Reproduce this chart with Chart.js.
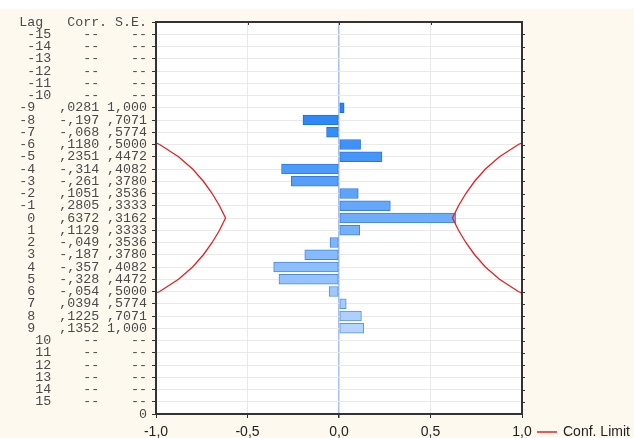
<!DOCTYPE html>
<html>
<head>
<meta charset="utf-8">
<script src="https://cdn.jsdelivr.net/npm/chart.js@4/dist/chart.umd.min.js"></script>
<style>
  html, body { margin: 0; padding: 0; background: #fdf9ef; }
  #wrap { position: relative; width: 634px; height: 438px; }
  #topstrip { position: absolute; left: 0; top: 0; width: 634px; height: 9px; background: #fff; }
</style>
</head>
<body>
<div id="wrap">
  <div id="topstrip"></div>
  <canvas id="acf" width="634" height="438"></canvas>
</div>
<script>
// lags shown in the table, top to bottom
const lags = [-15, -14, -13, -12, -11, -10, -9, -8, -7, -6, -5, -4, -3, -2, -1, 0,
              1, 2, 3, 4, 5, 6, 7, 8, 9, 10, 11, 12, 13, 14, 15];
const corrText = ['--', '--', '--', '--', '--', '--', ',0281', '-,197', '-,068', ',1180', ',2351', '-,314',
                  '-,261', ',1051', ',2805', ',6372', ',1129', '-,049', '-,187', '-,357', '-,328', '-,054',
                  ',0394', ',1225', ',1352', '--', '--', '--', '--', '--', '--'];
const seText = ['--', '--', '--', '--', '--', '--', '1,000', ',7071', ',5774', ',5000', ',4472', ',4082',
                ',3780', ',3536', ',3333', ',3162', ',3333', ',3536', ',3780', ',4082', ',4472', ',5000',
                ',5774', ',7071', '1,000', '--', '--', '--', '--', '--', '--'];

// bars (lags -9 .. 9)
const barLags = [-9, -8, -7, -6, -5, -4, -3, -2, -1, 0, 1, 2, 3, 4, 5, 6, 7, 8, 9];
const corr = [0.0281, -0.197, -0.068, 0.1180, 0.2351, -0.314, -0.261, 0.1051, 0.2805, 0.6372,
              0.1129, -0.049, -0.187, -0.357, -0.328, -0.054, 0.0394, 0.1225, 0.1352];
const confUpper = [1.96, 1.386, 1.132, 0.980, 0.877, 0.800, 0.741, 0.693, 0.653, 0.620,
                   0.653, 0.693, 0.741, 0.800, 0.877, 0.980, 1.132, 1.386, 1.96];
const confLower = [-1.96, -1.386, -1.132, -0.980, -0.877, -0.800, -0.741, -0.693, -0.653, -0.620,
                   -0.653, -0.693, -0.741, -0.800, -0.877, -0.980, -1.132, -1.386, -1.96];
const xTicks = [-1, -0.5, 0, 0.5, 1];

// a lag sits at row 16 - lag on a 0..32 scale
const rowOf = lag => 16 - lag;

function rowLabel(i) {
  const lag = lags[i];
  const l = Math.abs(lag) < 10 ? String(lag).padStart(2).padEnd(4) : String(lag).padStart(4);
  return l + ' ' + corrText[i].padStart(5) + ' ' + seText[i].padStart(5);
}

function mix(a, b, t) {
  return 'rgb(' + a.map((v, k) => Math.round(v + (b[k] - v) * t)).join(',') + ')';
}
const n = barLags.length;
const fills = barLags.map((_, i) => mix([38, 132, 245], [180, 213, 255], i / (n - 1)));
const borders = barLags.map((_, i) => mix([30, 108, 225], [95, 145, 228], i / (n - 1)));

const monoFont = { family: '"Liberation Mono", "DejaVu Sans Mono", monospace', size: 13.3, lineHeight: 1 };
const sansFont = { family: '"Liberation Sans", Arial, sans-serif', size: 14 };

const framePlugin = {
  id: 'frame',
  beforeDraw(chart) {
    const { ctx, chartArea: a } = chart;
    ctx.save();
    ctx.fillStyle = '#fff';
    ctx.fillRect(a.left, a.top, a.right - a.left, a.bottom - a.top);
    ctx.restore();
  },
  afterDraw(chart) {
    const { ctx, chartArea: a, scales } = chart;
    ctx.save();
    ctx.strokeStyle = '#333';
    ctx.lineWidth = 2;
    ctx.strokeRect(a.left, a.top, a.right - a.left, a.bottom - a.top);
    ctx.lineWidth = 1;
    // tick marks on the top and right edges
    xTicks.forEach(v => {
      const px = Math.round(scales.x.getPixelForValue(v)) + 0.5;
      ctx.beginPath(); ctx.moveTo(px, a.top); ctx.lineTo(px, a.top + 3); ctx.stroke();
    });
    for (let v = 1; v <= 31; v++) {
      const py = Math.round(scales.y.getPixelForValue(v)) + 0.5;
      ctx.beginPath(); ctx.moveTo(a.right, py); ctx.lineTo(a.right + 3, py); ctx.stroke();
    }
    // legend
    const ly = 432;
    ctx.strokeStyle = 'rgb(235,30,30)';
    ctx.lineWidth = 1.5;
    ctx.beginPath(); ctx.moveTo(537, ly); ctx.lineTo(557, ly); ctx.stroke();
    ctx.fillStyle = '#222';
    ctx.font = '14px "Liberation Sans", Arial, sans-serif';
    ctx.textBaseline = 'middle';
    ctx.fillText('Conf. Limit', 563, ly);
    ctx.restore();
  }
};

new Chart(document.getElementById('acf'), {
  type: 'bar',
  data: {
    datasets: [
      {
        label: 'Corr.',
        data: barLags.map((lag, i) => ({ x: corr[i], y: rowOf(lag) })),
        backgroundColor: fills,
        borderColor: borders,
        borderWidth: 1,
        borderSkipped: false,
        barThickness: 10,
        order: 2
      },
      {
        type: 'line',
        label: 'Conf. Limit',
        data: barLags.map((lag, i) => ({ x: confUpper[i], y: rowOf(lag) })),
        borderColor: 'rgb(235,30,30)',
        borderWidth: 1.3,
        pointRadius: 0,
        tension: 0,
        fill: false,
        order: 1
      },
      {
        type: 'line',
        label: 'Conf. Limit',
        data: barLags.map((lag, i) => ({ x: confLower[i], y: rowOf(lag) })),
        borderColor: 'rgb(235,30,30)',
        borderWidth: 1.3,
        pointRadius: 0,
        tension: 0,
        fill: false,
        order: 1
      }
    ]
  },
  options: {
    indexAxis: 'y',
    responsive: false,
    animation: false,
    layout: { padding: { top: 22, right: 112, left: 0, bottom: 0 } },
    plugins: { legend: { display: false }, tooltip: { enabled: false } },
    scales: {
      x: {
        type: 'linear',
        min: -1,
        max: 1,
        afterBuildTicks: s => { s.ticks = xTicks.map(v => ({ value: v })); },
        afterFit: s => { s.height = 24; },
        border: { display: false },
        grid: {
          color: c => (c.tick && c.tick.value === 0 ? '#a9bff0' : '#e9e9e9'),
          lineWidth: c => (c.tick && c.tick.value === 0 ? 1.5 : 1),
          tickColor: '#333',
          tickLength: 4
        },
        ticks: {
          color: '#222',
          font: sansFont,
          padding: 6,
          callback: v => v.toFixed(1).replace('.', ',')
        }
      },
      y: {
        type: 'linear',
        min: 0,
        max: 32,
        offset: false,
        afterBuildTicks: s => {
          const t = [];
          for (let v = 0; v <= 32; v++) t.push({ value: v });
          s.ticks = t;
        },
        afterFit: s => { s.width = 156; },
        border: { display: false },
        grid: { offset: false, color: '#e9e9e9', tickColor: '#333', tickLength: 4 },
        ticks: {
          autoSkip: false,
          color: '#4a4a4a',
          font: monoFont,
          padding: 5,
          callback: v => {
            if (v === 0) return '0';
            if (v === 32) return 'Lag   Corr. S.E.';
            return rowLabel(lags.indexOf(16 - v));
          }
        }
      }
    }
  },
  plugins: [framePlugin]
});
</script>
</body>
</html>
